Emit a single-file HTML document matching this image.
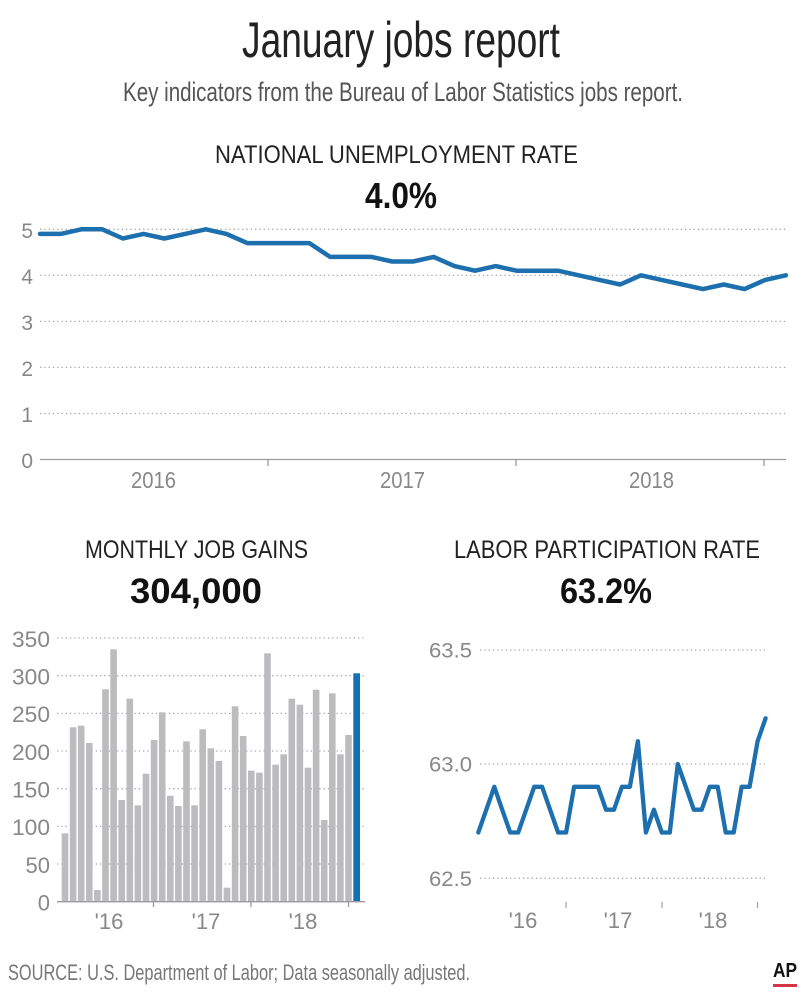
<!DOCTYPE html>
<html>
<head>
<meta charset="utf-8">
<style>
html,body{margin:0;padding:0;background:#fff;}
svg{display:block;}
text{font-family:"Liberation Sans",sans-serif;}
</style>
</head>
<body>
<svg width="805" height="992" viewBox="0 0 805 992" xmlns="http://www.w3.org/2000/svg">
<rect width="805" height="992" fill="#fff"/>

<!-- Titles -->
<text x="242" y="57" font-size="50" fill="#222" textLength="318" lengthAdjust="spacingAndGlyphs">January jobs report</text>
<text x="123" y="101" font-size="27" fill="#555" textLength="560" lengthAdjust="spacingAndGlyphs">Key indicators from the Bureau of Labor Statistics jobs report.</text>

<text x="215" y="163" font-size="25" fill="#222" textLength="363" lengthAdjust="spacingAndGlyphs">NATIONAL UNEMPLOYMENT RATE</text>
<text x="365" y="208" font-size="36" font-weight="bold" fill="#111" textLength="72" lengthAdjust="spacingAndGlyphs">4.0%</text>

<!-- Top chart gridlines -->
<g stroke="#a8a8a8" stroke-width="1.3" stroke-dasharray="1.3 3">
<line x1="40" y1="229.3" x2="786" y2="229.3"/>
<line x1="40" y1="275.4" x2="786" y2="275.4"/>
<line x1="40" y1="321.4" x2="786" y2="321.4"/>
<line x1="40" y1="367.4" x2="786" y2="367.4"/>
<line x1="40" y1="413.5" x2="786" y2="413.5"/>
</g>
<line x1="40" y1="459.5" x2="786" y2="459.5" stroke="#9a9a9a" stroke-width="1.3"/>
<g stroke="#9a9a9a" stroke-width="1.3">
<line x1="268" y1="459.5" x2="268" y2="466"/>
<line x1="516" y1="459.5" x2="516" y2="466"/>
<line x1="764" y1="459.5" x2="764" y2="466"/>
</g>
<g font-size="21" fill="#888" text-anchor="end">
<text x="33" y="238">5</text>
<text x="33" y="284">4</text>
<text x="33" y="330">3</text>
<text x="33" y="376">2</text>
<text x="33" y="422">1</text>
<text x="33" y="468">0</text>
</g>
<g font-size="23" fill="#888">
<text x="131" y="488" textLength="45" lengthAdjust="spacingAndGlyphs">2016</text>
<text x="380" y="488" textLength="45" lengthAdjust="spacingAndGlyphs">2017</text>
<text x="629" y="488" textLength="45" lengthAdjust="spacingAndGlyphs">2018</text>
</g>
<polyline fill="none" stroke="#1d6fae" stroke-width="4.5" stroke-linejoin="round" stroke-linecap="round"
points="40.0,233.9 60.7,233.9 81.4,229.3 102.2,229.3 122.9,238.5 143.6,233.9 164.3,238.5 185.0,233.9 205.8,229.3 226.5,233.9 247.2,243.1 267.9,243.1 288.6,243.1 309.4,243.1 330.1,256.9 350.8,256.9 371.5,256.9 392.2,261.5 413.0,261.5 433.7,256.9 454.4,266.1 475.1,270.7 495.8,266.1 516.6,270.7 537.3,270.7 558.0,270.7 578.7,275.3 599.4,279.9 620.2,284.5 640.9,275.3 661.6,279.9 682.3,284.5 703.0,289.1 723.8,284.5 744.5,289.1 765.2,279.9 785.9,275.3"/>

<!-- Bottom headings -->
<text x="85" y="558" font-size="25" fill="#222" textLength="223" lengthAdjust="spacingAndGlyphs">MONTHLY JOB GAINS</text>
<text x="130" y="603" font-size="35" font-weight="bold" fill="#111" textLength="132" lengthAdjust="spacingAndGlyphs">304,000</text>
<text x="454" y="558" font-size="25" fill="#222" textLength="306" lengthAdjust="spacingAndGlyphs">LABOR PARTICIPATION RATE</text>
<text x="560" y="603" font-size="35" font-weight="bold" fill="#111" textLength="92" lengthAdjust="spacingAndGlyphs">63.2%</text>

<!-- Bar chart -->
<g stroke="#a8a8a8" stroke-width="1.3" stroke-dasharray="1.3 3">
<line x1="57" y1="638" x2="364" y2="638"/>
<line x1="57" y1="675.7" x2="364" y2="675.7"/>
<line x1="57" y1="713.4" x2="364" y2="713.4"/>
<line x1="57" y1="751" x2="364" y2="751"/>
<line x1="57" y1="788.7" x2="364" y2="788.7"/>
<line x1="57" y1="826.4" x2="364" y2="826.4"/>
<line x1="57" y1="864" x2="364" y2="864"/>
</g>
<g font-size="22" fill="#888" text-anchor="end">
<text x="50" y="647" textLength="38" lengthAdjust="spacingAndGlyphs">350</text>
<text x="50" y="684.5" textLength="38" lengthAdjust="spacingAndGlyphs">300</text>
<text x="50" y="722" textLength="38" lengthAdjust="spacingAndGlyphs">250</text>
<text x="50" y="760" textLength="38" lengthAdjust="spacingAndGlyphs">200</text>
<text x="50" y="797.5" textLength="38" lengthAdjust="spacingAndGlyphs">150</text>
<text x="50" y="835" textLength="38" lengthAdjust="spacingAndGlyphs">100</text>
<text x="50" y="873">50</text>
<text x="50" y="910.5">0</text>
</g>
<g fill="#bcbcbf">
<rect x="61.7" y="833.3" width="6.6" height="68.4"/>
<rect x="69.8" y="727.3" width="6.6" height="174.4"/>
<rect x="77.9" y="725.7" width="6.6" height="176.0"/>
<rect x="86.0" y="743.0" width="6.6" height="158.7"/>
<rect x="94.1" y="890.0" width="6.6" height="11.7"/>
<rect x="102.2" y="689.3" width="6.6" height="212.4"/>
<rect x="110.3" y="649.3" width="6.6" height="252.4"/>
<rect x="118.4" y="800.0" width="6.6" height="101.7"/>
<rect x="126.5" y="698.7" width="6.6" height="203.0"/>
<rect x="134.6" y="805.3" width="6.6" height="96.4"/>
<rect x="142.7" y="773.7" width="6.6" height="128.0"/>
<rect x="150.8" y="740.0" width="6.6" height="161.7"/>
<rect x="158.9" y="712.3" width="6.6" height="189.4"/>
<rect x="167.0" y="795.7" width="6.6" height="106.0"/>
<rect x="175.1" y="806.0" width="6.6" height="95.7"/>
<rect x="183.2" y="741.3" width="6.6" height="160.4"/>
<rect x="191.3" y="805.3" width="6.6" height="96.4"/>
<rect x="199.4" y="729.3" width="6.6" height="172.4"/>
<rect x="207.5" y="748.3" width="6.6" height="153.4"/>
<rect x="215.6" y="761.0" width="6.6" height="140.7"/>
<rect x="223.7" y="887.7" width="6.6" height="14.0"/>
<rect x="231.8" y="706.3" width="6.6" height="195.4"/>
<rect x="239.9" y="736.0" width="6.6" height="165.7"/>
<rect x="248.0" y="770.7" width="6.6" height="131.0"/>
<rect x="256.1" y="772.7" width="6.6" height="129.0"/>
<rect x="264.2" y="653.3" width="6.6" height="248.4"/>
<rect x="272.3" y="764.7" width="6.6" height="137.0"/>
<rect x="280.4" y="754.3" width="6.6" height="147.4"/>
<rect x="288.5" y="698.7" width="6.6" height="203.0"/>
<rect x="296.6" y="704.7" width="6.6" height="197.0"/>
<rect x="304.7" y="767.7" width="6.6" height="134.0"/>
<rect x="312.8" y="689.7" width="6.6" height="212.0"/>
<rect x="320.9" y="820.0" width="6.6" height="81.7"/>
<rect x="329.0" y="693.3" width="6.6" height="208.4"/>
<rect x="337.1" y="754.3" width="6.6" height="147.4"/>
<rect x="345.2" y="735.0" width="6.6" height="166.7"/>
</g>
<rect x="353.3" y="673.3" width="6.7" height="228.4" fill="#1173b6"/>
<line x1="57" y1="901.7" x2="365" y2="901.7" stroke="#9a9a9a" stroke-width="1.3"/>
<g stroke="#9a9a9a" stroke-width="1.3">
<line x1="153.5" y1="901.7" x2="153.5" y2="907"/>
<line x1="251" y1="901.7" x2="251" y2="907"/>
<line x1="348.5" y1="901.7" x2="348.5" y2="907"/>
</g>
<g font-size="22" fill="#888" text-anchor="middle">
<text x="109" y="929">'16</text>
<text x="206" y="929">'17</text>
<text x="303" y="929">'18</text>
</g>

<!-- Participation chart -->
<g stroke="#a8a8a8" stroke-width="1.3" stroke-dasharray="1.3 3">
<line x1="480" y1="650" x2="765" y2="650"/>
<line x1="480" y1="764" x2="765" y2="764"/>
<line x1="480" y1="878.3" x2="765" y2="878.3"/>
</g>
<g font-size="21" fill="#888" text-anchor="end">
<text x="472" y="657.5" textLength="43" lengthAdjust="spacingAndGlyphs">63.5</text>
<text x="472" y="771.5" textLength="43" lengthAdjust="spacingAndGlyphs">63.0</text>
<text x="472" y="886" textLength="43" lengthAdjust="spacingAndGlyphs">62.5</text>
</g>
<g stroke="#a0a0a0" stroke-width="1.2">
<line x1="566" y1="902" x2="566" y2="908"/>
<line x1="662" y1="902" x2="662" y2="908"/>
<line x1="757.5" y1="902" x2="757.5" y2="908"/>
</g>
<g font-size="22" fill="#888" text-anchor="middle">
<text x="523" y="928">'16</text>
<text x="618" y="928">'17</text>
<text x="713" y="928">'18</text>
</g>
<polyline fill="none" stroke="#1d6fae" stroke-width="4.3" stroke-linejoin="round" stroke-linecap="round"
points="478.3,832.5 486.3,809.7 494.3,786.8 502.2,809.7 510.2,832.5 518.2,832.5 526.2,809.7 534.2,786.8 542.1,786.8 550.1,809.7 558.1,832.5 566.1,832.5 574.1,786.8 582.0,786.8 590.0,786.8 598.0,786.8 606.0,809.7 614.0,809.7 621.9,786.8 629.9,786.8 637.9,741.2 645.9,832.5 653.9,809.7 661.8,832.5 669.8,832.5 677.8,764.0 685.8,786.8 693.8,809.7 701.7,809.7 709.7,786.8 717.7,786.8 725.7,832.5 733.7,832.5 741.6,786.8 749.6,786.8 757.6,741.2 765.6,718.3"/>

<!-- Footer -->
<text x="8" y="980" font-size="22" fill="#777" textLength="462" lengthAdjust="spacingAndGlyphs">SOURCE: U.S. Department of Labor; Data seasonally adjusted.</text>
<text x="773" y="977" font-size="20" font-weight="bold" fill="#111" textLength="24" lengthAdjust="spacingAndGlyphs">AP</text>
<rect x="773" y="984" width="24" height="3" fill="#d63447"/>
</svg>
</body>
</html>
